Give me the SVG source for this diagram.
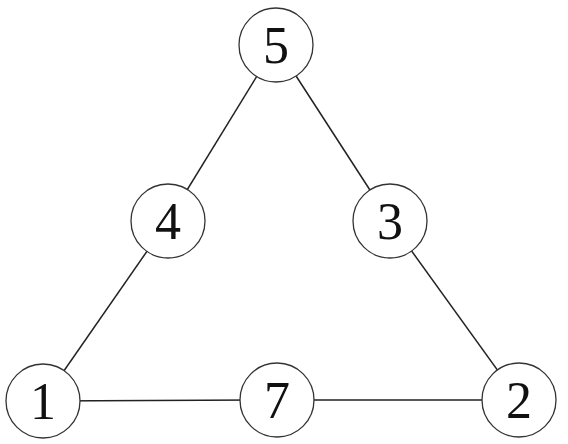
<svg xmlns="http://www.w3.org/2000/svg" width="568" height="444" viewBox="0 0 568 444">
<style>
.n circle{fill:#fff;stroke:#333;stroke-width:1.3}
.n text{font-family:"Liberation Serif","Times New Roman",serif;font-size:52px;fill:#111;text-anchor:middle}
#edges line{stroke:#222;stroke-width:1.5}
</style>
<rect width="568" height="444" fill="#fff"/>
<g id="edges">
<line x1="276" y1="45" x2="168" y2="221"/>
<line x1="276" y1="45" x2="390" y2="221"/>
<line x1="168" y1="221" x2="43" y2="401"/>
<line x1="390" y1="221" x2="519" y2="400"/>
<line x1="43" y1="401" x2="277" y2="400"/>
<line x1="277" y1="400" x2="519" y2="400"/>
</g>
<g id="n5" class="n"><circle cx="276" cy="45" r="37"/><text x="276" y="63">5</text></g>
<g id="n4" class="n"><circle cx="168" cy="221" r="37"/><text x="168" y="239">4</text></g>
<g id="n3" class="n"><circle cx="390" cy="221" r="37"/><text x="390" y="239">3</text></g>
<g id="n1" class="n"><circle cx="43" cy="401" r="37"/><text x="43" y="419">1</text></g>
<g id="n7" class="n"><circle cx="277" cy="400" r="37"/><text x="277" y="418">7</text></g>
<g id="n2" class="n"><circle cx="519" cy="400" r="37"/><text x="519" y="418">2</text></g>
</svg>
